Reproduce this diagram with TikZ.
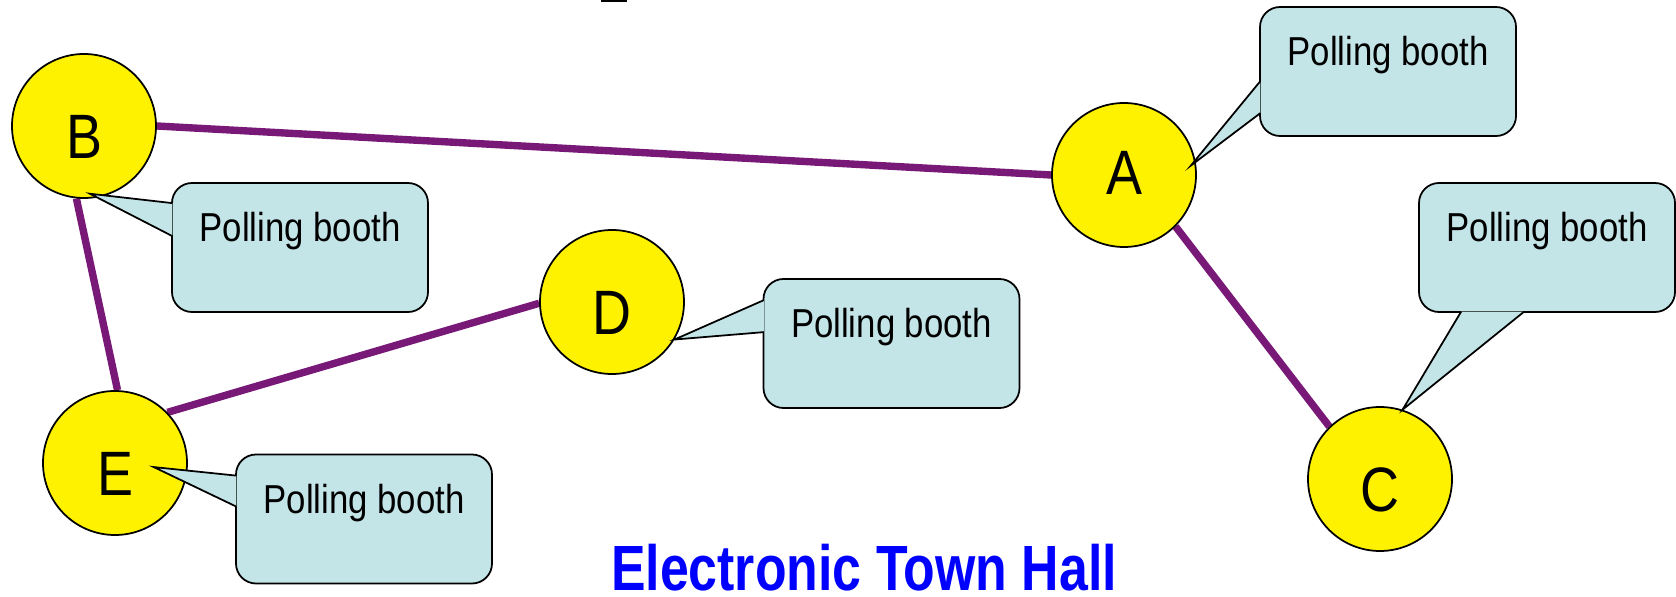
\documentclass[tikz,border=0pt]{standalone}
\usepackage{fontspec}
\usepackage{xcolor}
\usepackage{tikz}
\usetikzlibrary{positioning, backgrounds}

\newfontfamily\boothfont[FakeStretch=0.86]{Liberation Sans}
\newfontfamily\titlefont[FakeStretch=0.81]{Liberation Sans}

\definecolor{linkpurple}{RGB}{120,25,120}
\definecolor{boothblue}{RGB}{196,229,232}
\definecolor{titleblue}{RGB}{0,0,255}

\begin{document}
\begin{tikzpicture}[
    station/.style={
        circle,
        draw=black,
        fill=yellow,
        line width=1pt,
        minimum size=2.88cm,
        inner sep=0pt,
        text height=1.3cm,
        text depth=0pt,
        font=\boothfont\fontsize{35.7}{40}\selectfont
    },
    booth/.style={
        rectangle,
        draw=black,
        fill=boothblue,
        rounded corners=0.4cm,
        line width=1pt,
        minimum width=5.12cm,
        inner xsep=0pt,
        inner ysep=0pt,
        text height=1.18cm,
        text depth=1.4cm,
        font=\boothfont\fontsize{23}{27}\selectfont
    },
    tail/.style={fill=boothblue, draw=black, line width=1pt},
    link/.style={draw=linkpurple, line width=4.2pt}
]

\useasboundingbox (0,0) rectangle (33.52,11.92);

% Stations
\node[station] (B) at (1.68, 9.40) {B};
\node[station, text height=0.8cm] (A) at (22.48, 8.42) {A};
\node[station] (C) at (27.60, 2.34) {C};
\node[station] (D) at (12.24, 5.88) {D};
\node[station] (E) at (2.30, 2.66) {E};

% Links
\begin{scope}[on background layer]
\draw[link] (B.east) -- (A.west);
\draw[link] (B.264) -- (E.88);
\draw[link] (E.44) -- (D.181);
\draw[link] (A.-45) -- (C.134);
\end{scope}

% Callouts
\node[booth] (bB) at (6.00, 6.97) {Polling booth};
\node[booth] (bA) at (27.76, 10.49) {Polling booth};
\node[booth] (bC) at (30.94, 6.97) {Polling booth};
\node[booth] (bD) at (17.83, 5.05) {Polling booth};
\node[booth] (bE) at (7.28, 1.54) {Polling booth};

\filldraw[tail] ([xshift=0.7pt, yshift=-0.42cm]bB.north west) -- ([shift={(-85:1.36)}]B.center) -- ([xshift=0.7pt, yshift=-1.08cm]bB.north west);
\filldraw[tail] ([xshift=0.7pt, yshift=-1.50cm]bA.north west) -- ([shift={(8:1.35)}]A.center) -- ([xshift=0.7pt, yshift=-2.14cm]bA.north west);
\filldraw[tail] ([xshift=0.86cm, yshift=0.7pt]bC.south west) -- (C.72) -- ([xshift=2.12cm, yshift=0.7pt]bC.south west);
\filldraw[tail] ([xshift=0.7pt, yshift=-0.44cm]bD.north west) -- (D.-31) -- ([xshift=0.7pt, yshift=-1.08cm]bD.north west);
\filldraw[tail] ([xshift=0.7pt, yshift=-0.44cm]bE.north west) -- ([shift={(-6:0.78)}]E.center) -- ([xshift=0.7pt, yshift=-1.06cm]bE.north west);

% Title
\node[anchor=base, inner ysep=0pt, text depth=0pt, text=titleblue, font=\titlefont\bfseries\fontsize{36.4}{40}\selectfont] (title) at (17.28, 0.12) {Electronic Town Hall};

% stray mark on the top edge
\fill (12.02, 11.88) rectangle (12.54, 11.92);

\end{tikzpicture}
\end{document}
